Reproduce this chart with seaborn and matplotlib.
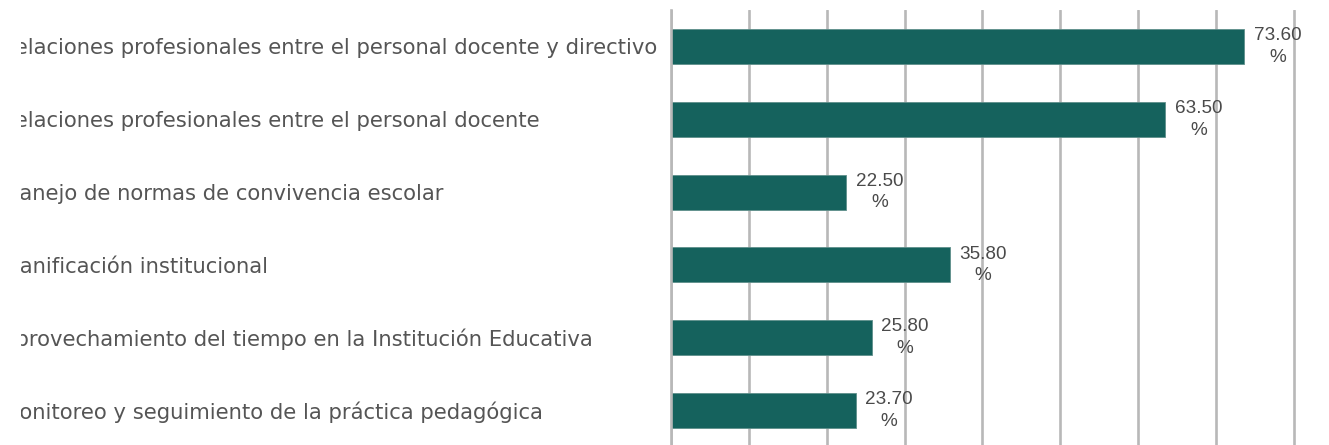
import matplotlib
matplotlib.use('Agg')
import matplotlib.pyplot as plt
from matplotlib.patches import Rectangle
import pandas as pd
import seaborn as sns

categorias = [
    'Relaciones profesionales entre el personal docente y directivo',
    'Relaciones profesionales entre el personal docente',
    'Manejo de normas de convivencia escolar',
    'Planificación institucional',
    'Aprovechamiento del tiempo en la Institución Educativa',
    'Monitoreo y seguimiento de la práctica pedagógica',
]
porcentajes = [73.60, 63.50, 22.50, 35.80, 25.80, 23.70]
etiquetas = [f'{v:.2f}\n%' for v in porcentajes]

df = pd.DataFrame({'categoria': categorias, 'valor': porcentajes})

sns.set_style('white')
plt.rcParams['font.family'] = ['Liberation Sans', 'DejaVu Sans']

W, H, DPI = 1329, 445, 100
fig = plt.figure(figsize=(W / DPI, H / DPI), dpi=DPI)
ax = fig.add_axes([671 / W, -2 / H, 1 - 671 / W, 437 / H])

sns.barplot(data=df, x='valor', y='categoria', color='#15625d', width=0.48,
            saturation=1, edgecolor='#5f8f8b', linewidth=0.6, ax=ax, zorder=2)

ax.set_xlim(0, 84.5)
ax.set_xticks(range(0, 81, 10))
ax.xaxis.grid(True, color='#b8b8b8', linewidth=1.9, zorder=0)
ax.set_axisbelow(True)
for s in ['top', 'right', 'bottom']:
    ax.spines[s].set_visible(False)
ax.spines['left'].set_color('#b8b8b8')
ax.spines['left'].set_linewidth(1.9)
ax.set_xlabel('')
ax.set_ylabel('')
ax.tick_params(axis='x', length=0, labelbottom=False)
ax.tick_params(axis='y', length=0, pad=(671 - 1) / DPI * 72)
for t in ax.get_yticklabels():
    t.set_horizontalalignment('left')
    t.set_family('DejaVu Sans')
    t.set_fontsize(15.2)
    t.set_color('#555555')

for i, (v, lab) in enumerate(zip(porcentajes, etiquetas)):
    ax.annotate(lab, xy=(v, i), xytext=(24, 0), textcoords='offset points',
                ha='center', va='center', multialignment='center',
                fontsize=13.6, color='#4a4a4a', linespacing=1.35,
                zorder=3, annotation_clip=False)

# white strip hiding the left edge of the labels, as in the original crop
fig.patches.append(Rectangle((0, 0), 21 / W, 1, transform=fig.transFigure,
                             facecolor='white', edgecolor='none', zorder=10))

fig.savefig('out.png', dpi=DPI)
